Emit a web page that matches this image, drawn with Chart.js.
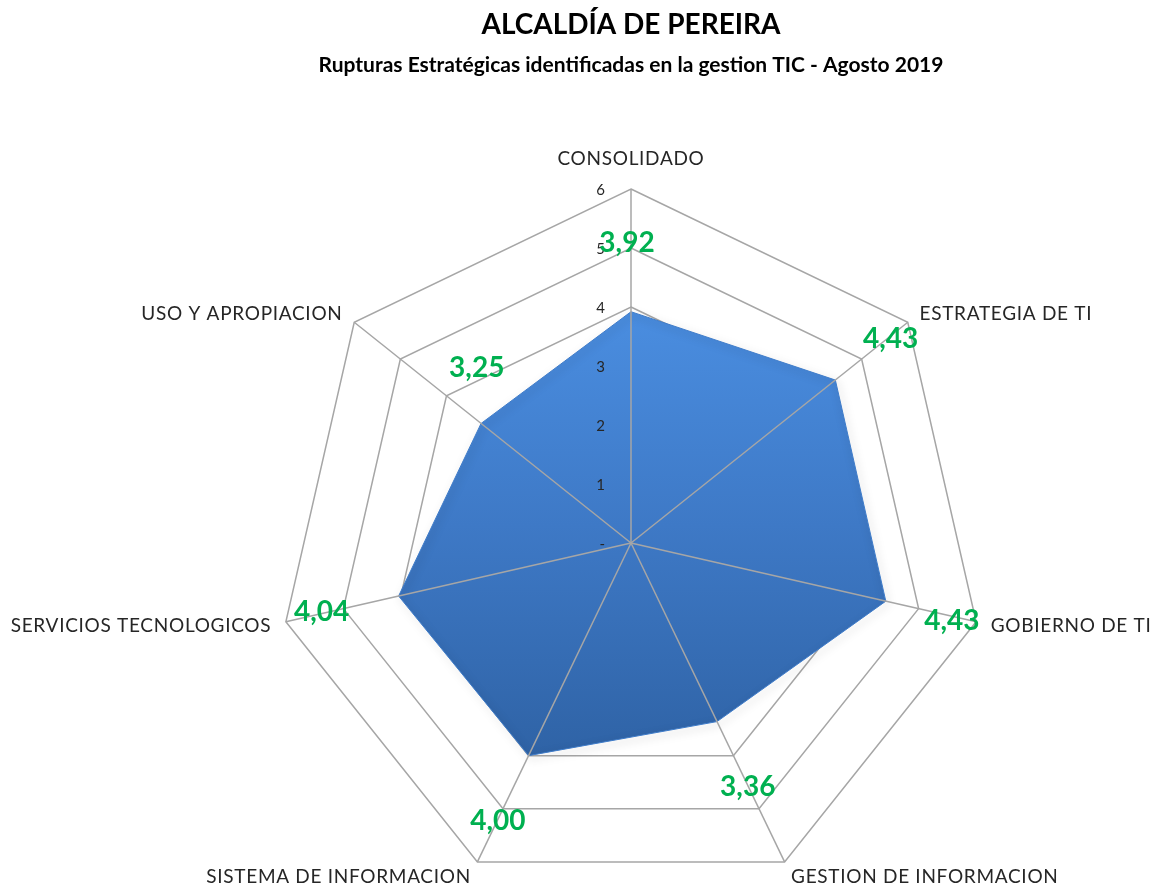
<!DOCTYPE html>
<html>
<head>
<meta charset="utf-8">
<script src="https://cdn.jsdelivr.net/npm/chart.js@4/dist/chart.umd.min.js"></script>
<style>
  html, body { margin: 0; padding: 0; background: #ffffff; overflow: hidden; }
  #wrap { width: 1157px; height: 884px; overflow: hidden; }
</style>
</head>
<body>
<div id="wrap"><canvas id="c" width="1157" height="898"></canvas></div>
<script>
const categories = ['CONSOLIDADO', 'ESTRATEGIA DE TI', 'GOBIERNO DE TI', 'GESTION DE INFORMACION', 'SISTEMA DE INFORMACION', 'SERVICIOS TECNOLOGICOS', 'USO Y APROPIACION'];
const values = [3.92, 4.43, 4.43, 3.36, 4.00, 4.04, 3.25];
const tickLabels = ['-', '1', '2', '3', '4', '5', '6'];
const titleText = 'ALCALDÍA DE PEREIRA';
const subtitleText = 'Rupturas Estratégicas identificadas en la gestion TIC - Agosto 2019';

// style: pixel nudges for the value labels (dx, dy)
const labelNudge = [[-4, 2], [0, 3], [-3, 4], [0, 2], [0, 2], [-8, 0], [51, -11]];

const FONT = 'Lato, "Open Sans", sans-serif';
const GRID = '#a6a6a6';

function fmt(v) { return v.toFixed(2).replace('.', ','); }

const overlay = {
  id: 'overlay',
  beforeDatasetDraw(chart) {
    const ctx = chart.ctx;
    ctx.save();
    ctx.shadowColor = 'rgba(0,0,0,0.38)';
    ctx.shadowBlur = 8;
    ctx.shadowOffsetX = 2;
    ctx.shadowOffsetY = 3;
  },
  afterDatasetDraw(chart) {
    chart.ctx.restore();
  },
  afterDatasetsDraw(chart) {
    const r = chart.scales.r;
    const ctx = chart.ctx;
    ctx.save();
    // spokes drawn over the filled area
    ctx.strokeStyle = GRID;
    ctx.lineWidth = 1.5;
    categories.forEach((c, i) => {
      const p = r.getPointPositionForValue(i, r.max);
      ctx.beginPath();
      ctx.moveTo(r.xCenter, r.yCenter);
      ctx.lineTo(p.x, p.y);
      ctx.stroke();
    });
    // tick labels
    ctx.font = '15px ' + FONT;
    ctx.fillStyle = '#262626';
    ctx.textAlign = 'right';
    ctx.textBaseline = 'middle';
    tickLabels.forEach((t, k) => {
      const p = r.getPointPositionForValue(0, k);
      ctx.fillText(t, p.x - 26, p.y + 1);
    });
    // point labels
    ctx.font = '19px ' + FONT;
    ctx.letterSpacing = '0.7px';
    ctx.fillStyle = '#262626';
    categories.forEach((c, i) => {
      const deg = Math.round(r.getIndexAngle(i) * 180 / Math.PI) % 360;
      const p = r.getPointPosition(i, r.drawingArea + 15);
      if (deg === 0) {
        ctx.textAlign = 'center';
        ctx.textBaseline = 'bottom';
        ctx.fillText(c, p.x, p.y - 6);
      } else {
        ctx.textAlign = deg < 180 ? 'left' : 'right';
        ctx.textBaseline = 'middle';
        ctx.fillText(c, p.x, p.y + 1);
      }
    });
    ctx.letterSpacing = '0px';
    // data labels
    ctx.font = 'bold 28px ' + FONT;
    ctx.fillStyle = '#00b050';
    ctx.textAlign = 'center';
    ctx.textBaseline = 'middle';
    values.forEach((v, i) => {
      const p = r.getPointPositionForValue(i, v + 1.2);
      const n = labelNudge[i];
      ctx.fillText(fmt(v), p.x + n[0], p.y + n[1]);
    });
    ctx.restore();
  }
};

new Chart(document.getElementById('c'), {
  type: 'radar',
  data: {
    labels: categories,
    datasets: [{
      data: values,
      borderColor: '#3f7cc9',
      borderWidth: 1,
      pointRadius: 0,
      pointHoverRadius: 0,
      fill: true,
      backgroundColor: (context) => {
        const chart = context.chart;
        const r = chart.scales.r;
        if (!r || !chart.chartArea) return '#3d78c8';
        const g = chart.ctx.createLinearGradient(0, r.yCenter - r.drawingArea * 0.7, 0, r.yCenter + r.drawingArea * 0.6);
        g.addColorStop(0, '#4b8fe2');
        g.addColorStop(0.5, '#3e79c6');
        g.addColorStop(1, '#2f63a6');
        return g;
      }
    }]
  },
  options: {
    responsive: false,
    animation: false,
    layout: { padding: { left: 277, right: 172, top: 0, bottom: 0 } },
    plugins: {
      legend: { display: false },
      tooltip: { enabled: false },
      title: {
        display: true,
        text: titleText,
        color: '#000000',
        font: { family: FONT, size: 28, weight: 'bold', lineHeight: 1.2 },
        padding: { top: 8, bottom: 0 }
      },
      subtitle: {
        display: true,
        text: subtitleText,
        color: '#000000',
        font: { family: FONT, size: 21, weight: 'bold', lineHeight: 1.2 },
        padding: { top: 10.8, bottom: 111.4 }
      }
    },
    scales: {
      r: {
        min: 0,
        max: 6,
        ticks: { stepSize: 1, display: false },
        grid: { color: GRID, lineWidth: 1.5, circular: false },
        angleLines: { display: false },
        pointLabels: { display: false }
      }
    }
  },
  plugins: [overlay]
});
</script>
</body>
</html>
